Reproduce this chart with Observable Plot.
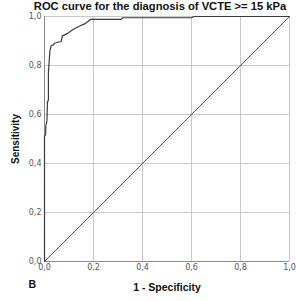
<!DOCTYPE html>
<html>
<head>
<meta charset="utf-8">
<script src="https://cdn.jsdelivr.net/npm/d3@7"></script>
<script src="https://cdn.jsdelivr.net/npm/@observablehq/plot@0.6"></script>
<style>
  html, body { margin: 0; padding: 0; background: #fff; }
  #chart svg { display: block; }
</style>
</head>
<body>
<div id="chart"></div>
<script>
// ROC curve points (1 - specificity, sensitivity)
const fpr = [0, 0, 0.005, 0.005, 0.010, 0.012, 0.016, 0.016, 0.020, 0.022, 0.027, 0.037, 0.040, 0.050, 0.068, 0.073, 0.095, 0.105, 0.118, 0.132, 0.146, 0.166, 0.180, 0.188, 0.313, 0.320, 0.600, 0.610, 1.0];
const tpr = [0, 0.51, 0.52, 0.55, 0.575, 0.65, 0.66, 0.77, 0.83, 0.86, 0.88, 0.885, 0.891, 0.894, 0.898, 0.921, 0.931, 0.939, 0.948, 0.955, 0.962, 0.971, 0.982, 0.988, 0.988, 0.995, 0.995, 1.0, 1.0];
const refX = [0, 1];
const refY = [0, 1];
const ticks = [0, 0.2, 0.4, 0.6, 0.8, 1.0];
const gridTicks = [0.2, 0.4, 0.6, 0.8, 1.0];
const titleText = "ROC curve for the diagnosis of VCTE >= 15 kPa";
const xLabel = "1 - Specificity";
const yLabel = "Sensitivity";
const panelLabel = "B";

const curve = fpr.map((x, i) => ({x, y: tpr[i]}));
const diag = refX.map((x, i) => ({x, y: refY[i]}));
const fmt = d => d.toFixed(1).replace(".", ",");
const font = "DejaVu Sans, sans-serif";
const labelFont = "Liberation Sans, Arial, sans-serif";

const chart = Plot.plot({
  width: 296,
  height: 301,
  marginLeft: 44,
  marginRight: 7,
  marginTop: 16,
  marginBottom: 40,
  style: {fontFamily: font, background: "#fff"},
  x: {domain: [0, 1]},
  y: {domain: [0, 1]},
  marks: [
    Plot.gridX(gridTicks, {stroke: "#c8c8c8", strokeOpacity: 1, strokeWidth: 1}),
    Plot.gridY(gridTicks, {stroke: "#c8c8c8", strokeOpacity: 1, strokeWidth: 1}),
    Plot.axisX(ticks, {tickSize: 0, tickPadding: 3, tickFormat: fmt, fontSize: 8, fill: "#555", label: null}),
    Plot.axisY(ticks, {tickSize: 0, tickPadding: 3, tickFormat: fmt, fontSize: 8, fill: "#555", label: null}),
    Plot.ruleX([0], {stroke: "#8a8a8a"}),
    Plot.ruleY([0], {stroke: "#8a8a8a"}),
    Plot.line(diag, {x: "x", y: "y", stroke: "#555", strokeWidth: 1}),
    Plot.line(curve, {x: "x", y: "y", stroke: "#3a3a3a", strokeWidth: 1.2}),
    Plot.text([titleText], {frameAnchor: "top", dx: -7, dy: -14.5, fontFamily: labelFont, fontSize: 11.2, fontWeight: "bold", fill: "#111"}),
    Plot.text([xLabel], {frameAnchor: "bottom", dy: 29, fontFamily: labelFont, fontSize: 10.5, fontWeight: "bold", fill: "#111"}),
    Plot.text([panelLabel], {frameAnchor: "bottom-left", dx: -16, dy: 26.5, fontFamily: labelFont, fontSize: 10.5, fontWeight: "bold", fill: "#111"}),
    Plot.text([yLabel], {frameAnchor: "left", dx: -29, rotate: -90, textAnchor: "middle", lineAnchor: "middle", fontFamily: labelFont, fontSize: 10, fontWeight: "bold", fill: "#111"})
  ]
});
document.getElementById("chart").appendChild(chart);
</script>
</body>
</html>
